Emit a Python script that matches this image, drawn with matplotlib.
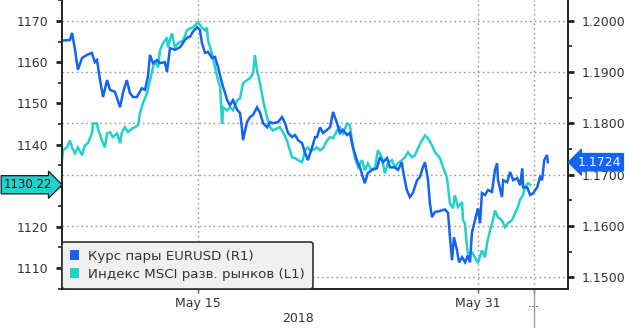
import matplotlib
matplotlib.use("Agg")
import matplotlib.pyplot as plt
from matplotlib.patches import Patch
from matplotlib.transforms import blended_transform_factory
from matplotlib.ticker import MultipleLocator, FixedLocator, FuncFormatter, FormatStrFormatter

plt.rcParams['font.family'] = ['DejaVu Sans']

# Time axis: trading days counted from Monday 7 May 2018 (weekends skipped)
tick_pos = [6.0, 18.0, 20.39]
tick_labels = ["May 15", "May 31", "..."]
year_label = "2018"

# EUR/USD spot rate (right axis)
eur_t = [0.16, 0.50, 0.59, 0.72, 0.84, 1.02, 1.23, 1.44, 1.57, 1.66,
         1.79, 1.92, 2.09, 2.22, 2.43, 2.65, 2.77, 2.94, 3.07, 3.20,
         3.37, 3.58, 3.72, 3.84, 3.93, 4.06, 4.23, 4.36, 4.57, 4.66,
         4.79, 5.00, 5.22, 5.43, 5.56, 5.64, 5.77, 5.95, 6.07, 6.16,
         6.29, 6.42, 6.59, 6.72, 6.85, 7.02, 7.07, 7.15, 7.24, 7.36,
         7.49, 7.67, 7.79, 7.87, 7.92, 8.09, 8.22, 8.35, 8.52, 8.65,
         8.78, 8.95, 9.08, 9.20, 9.42, 9.59, 9.72, 9.85, 10.02, 10.15,
         10.28, 10.45, 10.58, 10.70, 10.88, 11.01, 11.09, 11.22, 11.35, 11.52,
         11.65, 11.78, 11.95, 12.07, 12.20, 12.38, 12.50, 12.63, 12.80, 12.93,
         13.06, 13.14, 13.27, 13.44, 13.66, 13.79, 13.92, 14.09, 14.22, 14.43,
         14.56, 14.73, 14.77, 14.94, 15.07, 15.20, 15.38, 15.50, 15.63, 15.72,
         15.85, 15.93, 16.02, 16.15, 16.36, 16.58, 16.71, 16.79, 16.88, 16.96,
         17.09, 17.18, 17.31, 17.44, 17.56, 17.65, 17.73, 17.86, 17.99, 18.08,
         18.16, 18.29, 18.42, 18.59, 18.72, 18.81, 18.85, 19.02, 19.07, 19.24,
         19.37, 19.50, 19.67, 19.80, 19.89, 19.93, 20.10, 20.23, 20.36, 20.53,
         20.65, 20.74, 20.83, 20.95, 20.99]
eur_v = [1.1961, 1.1962, 1.1976, 1.1943, 1.1904, 1.1927, 1.1933, 1.1937, 1.1919, 1.1923,
         1.1884, 1.1851, 1.1884, 1.1865, 1.1861, 1.1831, 1.1859, 1.1884, 1.1859, 1.1851,
         1.1851, 1.1868, 1.1865, 1.1890, 1.1933, 1.1917, 1.1923, 1.1917, 1.1919, 1.1900,
         1.1946, 1.1943, 1.1948, 1.1962, 1.1968, 1.1968, 1.1978, 1.1987, 1.1982, 1.1956,
         1.1937, 1.1939, 1.1927, 1.1929, 1.1909, 1.1878, 1.1870, 1.1859, 1.1845, 1.1835,
         1.1845, 1.1826, 1.1820, 1.1792, 1.1767, 1.1802, 1.1812, 1.1816, 1.1831, 1.1820,
         1.1800, 1.1792, 1.1802, 1.1800, 1.1802, 1.1812, 1.1800, 1.1781, 1.1773, 1.1777,
         1.1767, 1.1761, 1.1742, 1.1728, 1.1753, 1.1773, 1.1773, 1.1792, 1.1781, 1.1787,
         1.1792, 1.1822, 1.1800, 1.1781, 1.1787, 1.1777, 1.1781, 1.1753, 1.1728, 1.1714,
         1.1695, 1.1683, 1.1703, 1.1709, 1.1712, 1.1734, 1.1724, 1.1732, 1.1714, 1.1714,
         1.1709, 1.1724, 1.1709, 1.1670, 1.1656, 1.1664, 1.1689, 1.1695, 1.1714, 1.1724,
         1.1689, 1.1644, 1.1617, 1.1627, 1.1629, 1.1632, 1.1625, 1.1578, 1.1533, 1.1578,
         1.1553, 1.1529, 1.1539, 1.1529, 1.1543, 1.1529, 1.1586, 1.1611, 1.1634, 1.1605,
         1.1664, 1.1660, 1.1670, 1.1666, 1.1709, 1.1722, 1.1689, 1.1656, 1.1689, 1.1685,
         1.1705, 1.1689, 1.1693, 1.1679, 1.1712, 1.1675, 1.1675, 1.1660, 1.1664, 1.1675,
         1.1695, 1.1689, 1.1728, 1.1738, 1.1724]

# MSCI developed markets index (left axis)
msci_t = [0.16, 0.20, 0.37, 0.50, 0.59, 0.72, 0.84, 1.02, 1.14, 1.27,
          1.44, 1.49, 1.66, 1.70, 1.87, 2.00, 2.09, 2.22, 2.34, 2.52,
          2.65, 2.73, 2.86, 2.99, 3.16, 3.29, 3.42, 3.50, 3.63, 3.80,
          3.93, 4.06, 4.15, 4.28, 4.36, 4.49, 4.66, 4.70, 4.87, 5.00,
          5.13, 5.35, 5.52, 5.64, 5.77, 5.99, 6.16, 6.29, 6.37, 6.42,
          6.59, 6.72, 6.85, 6.94, 7.02, 7.07, 7.24, 7.36, 7.49, 7.67,
          7.79, 7.92, 8.09, 8.22, 8.35, 8.43, 8.52, 8.65, 8.78, 8.95,
          9.08, 9.20, 9.37, 9.50, 9.63, 9.80, 9.93, 10.02, 10.15, 10.28,
          10.45, 10.58, 10.70, 10.79, 10.92, 11.09, 11.22, 11.35, 11.52, 11.65,
          11.78, 11.95, 12.07, 12.20, 12.38, 12.50, 12.59, 12.71, 12.85, 13.02,
          13.14, 13.27, 13.44, 13.58, 13.70, 13.87, 14.00, 14.13, 14.30, 14.43,
          14.56, 14.73, 14.86, 14.99, 15.16, 15.29, 15.42, 15.59, 15.72, 15.85,
          16.02, 16.15, 16.36, 16.49, 16.66, 16.79, 16.92, 17.00, 17.13, 17.31,
          17.35, 17.43, 17.52, 17.56, 17.73, 17.86, 17.99, 18.16, 18.29, 18.38,
          18.51, 18.63, 18.72, 18.85, 19.02, 19.15, 19.28, 19.45, 19.58, 19.70,
          19.79, 19.92, 20.00, 20.13, 20.23]
msci_v = [1136.2, 1138.6, 1139.3, 1141.0, 1139.3, 1137.9, 1139.3, 1137.4, 1139.8, 1140.3,
          1142.7, 1145.1, 1145.1, 1143.9, 1141.0, 1139.3, 1142.7, 1143.0, 1141.8, 1142.7,
          1140.3, 1143.0, 1144.2, 1143.0, 1143.9, 1144.2, 1144.7, 1147.6, 1150.0, 1152.4,
          1155.6, 1158.7, 1160.4, 1158.7, 1162.9, 1164.6, 1166.0, 1163.6, 1167.0, 1163.6,
          1164.6, 1165.3, 1167.7, 1168.2, 1168.4, 1169.7, 1168.4, 1167.7, 1168.4, 1165.3,
          1162.1, 1158.7, 1155.6, 1153.9, 1145.1, 1149.0, 1148.3, 1149.0, 1148.3, 1150.7,
          1151.2, 1154.9, 1155.6, 1156.1, 1157.3, 1161.7, 1158.0, 1154.9, 1150.7, 1146.6,
          1144.2, 1143.4, 1143.9, 1144.2, 1143.0, 1141.0, 1138.6, 1136.9, 1136.7, 1136.2,
          1135.7, 1138.6, 1139.3, 1138.6, 1138.6, 1139.3, 1138.6, 1139.1, 1141.0, 1141.8,
          1141.5, 1143.4, 1144.2, 1142.7, 1145.1, 1144.7, 1141.0, 1136.9, 1134.5, 1136.2,
          1133.7, 1135.4, 1133.7, 1134.5, 1138.6, 1136.9, 1133.0, 1135.4, 1136.2, 1134.5,
          1135.4, 1136.2, 1136.9, 1138.1, 1136.9, 1137.4, 1139.1, 1141.0, 1142.2, 1141.5,
          1139.8, 1138.1, 1136.7, 1134.5, 1132.0, 1125.7, 1124.5, 1127.7, 1124.8, 1126.0,
          1121.6, 1120.9, 1115.1, 1113.6, 1113.8, 1112.6, 1111.2, 1114.3, 1112.6, 1116.0,
          1119.2, 1121.6, 1124.0, 1122.3, 1121.6, 1119.9, 1120.9, 1121.6, 1123.3, 1124.8,
          1126.5, 1127.7, 1129.6, 1130.6, 1130.22]

eur_name = "Курс пары EURUSD (R1)"
msci_name = "Индекс MSCI разв. рынков (L1)"

BLUE = "#1464f4"
CYAN = "#22d0cc"
TXT = "#333333"
GRID = "#9a9a9a"

fig = plt.figure(figsize=(6.4, 3.28), dpi=100)
W, H = 640, 328
ax = fig.add_axes([62 / W, 1 - 289 / H, (568 - 62) / W, 289 / H])
ax2 = ax.twinx()

ax.plot(msci_t, msci_v, color=CYAN, lw=1.8, solid_joinstyle='miter')
ax2.plot(eur_t, eur_v, color=BLUE, lw=1.8, solid_joinstyle='miter')

ax.set_xlim(0.16, 21.85)
ax.set_ylim(1104.9, 1175.1)
ax2.set_ylim(1.1477, 1.2040)

# left axis ticks (the 1130 label sits under the last-value marker)
ax.yaxis.set_major_locator(MultipleLocator(10))
ax.yaxis.set_minor_locator(MultipleLocator(5))
ax.yaxis.set_major_formatter(FuncFormatter(lambda v, p: "" if round(v) == 1130 else f"{v:.0f}"))
ax.tick_params(axis='y', which='major', length=4, width=2, colors='#222222',
               labelcolor=TXT, labelsize=9, pad=6)
ax.tick_params(axis='y', which='minor', length=3, width=1.2, colors='#222222')

# right axis ticks
ax2.yaxis.set_major_locator(MultipleLocator(0.01))
ax2.yaxis.set_minor_locator(MultipleLocator(0.005))
ax2.yaxis.set_major_formatter(FormatStrFormatter('%.4f'))
ax2.tick_params(axis='y', which='major', length=4, width=2, colors='#222222',
                labelcolor=TXT, labelsize=9, pad=6)
ax2.tick_params(axis='y', which='minor', length=3, width=1.2, colors='#222222')

# x axis
ax.xaxis.set_major_locator(FixedLocator(tick_pos))
ax.set_xticklabels(tick_labels)
ax.tick_params(axis='x', which='major', length=3, width=1, colors='#555555',
               labelcolor=TXT, labelsize=9, pad=3)

for a in (ax, ax2):
    a.spines['top'].set_visible(False)
    for s in ('left', 'right', 'bottom'):
        a.spines[s].set_color('#222222')
        a.spines[s].set_linewidth(1.2)

# dotted grid
ax2.grid(axis='y', which='major', color=GRID, lw=1.0, linestyle=(0, (1.2, 2.2)))
ax.grid(axis='x', which='major', color=GRID, lw=1.0, linestyle=(0, (1.2, 2.2)))

# separator below the last tick
sep = blended_transform_factory(ax.transData, fig.transFigure)
ax.plot([tick_pos[-1], tick_pos[-1]], [1 - 290 / H, 0], transform=sep,
        color='#999999', lw=1.0, clip_on=False)

fig.text(298 / W, 1 - 318 / H, year_label, ha='center', va='center',
         fontsize=9, color=TXT)

# last-value markers on both axes
lt = blended_transform_factory(ax.transAxes, ax.transData)
ax.annotate(f"{msci_v[-1]:.2f}", xy=(0, msci_v[-1]), xycoords=lt,
            xytext=(-7, 0), textcoords='offset points', ha='right', va='center',
            fontsize=8.5, color='#1a1a1a', annotation_clip=False, zorder=10,
            bbox=dict(boxstyle='rarrow,pad=0.22', fc=CYAN, ec='#1a1a1a', lw=0.9))
rt = blended_transform_factory(ax2.transAxes, ax2.transData)
ax2.annotate(f"{eur_v[-1]:.4f}", xy=(1, eur_v[-1]), xycoords=rt,
             xytext=(7, 0), textcoords='offset points', ha='left', va='center',
             fontsize=9, color='white', annotation_clip=False, zorder=10,
             bbox=dict(boxstyle='larrow,pad=0.18', fc=BLUE, ec=BLUE, lw=0.9))

handles = [Patch(facecolor=BLUE, edgecolor='none', label=eur_name),
           Patch(facecolor=CYAN, edgecolor='none', label=msci_name)]
leg = ax2.legend(handles=handles, loc='lower left', bbox_to_anchor=(0, 0),
                 borderaxespad=0.0, frameon=True, fancybox=True, fontsize=9.6,
                 handlelength=0.65, handleheight=0.75, handletextpad=0.7,
                 labelspacing=0.4, borderpad=0.6, framealpha=1)
leg.get_frame().set_facecolor('#f0f0f0')
leg.get_frame().set_edgecolor('#333333')
leg.get_frame().set_linewidth(1.2)
for t in leg.get_texts():
    t.set_color(TXT)

fig.savefig("out.png", dpi=100)
